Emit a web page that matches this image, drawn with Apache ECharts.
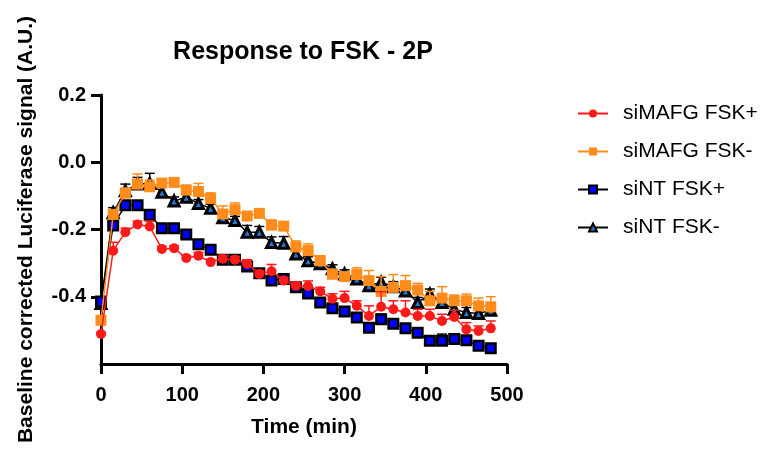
<!DOCTYPE html>
<html>
<head>
<meta charset="utf-8">
<script src="https://cdn.jsdelivr.net/npm/echarts@6/dist/echarts.min.js"></script>
<style>html,body{margin:0;padding:0;background:#fff}#c{width:763px;height:452px}</style>
</head>
<body>
<div id="c"></div>
<script>
const times = [0,15,30,45,60,75,90,105,120,135,150,165,180,195,210,225,240,255,270,285,300,315,330,345,360,375,390,405,420,435,450,465,480];
const xTicks = [0,100,200,300,400,500];
const yTicks = [-0.4,-0.2,0.0,0.2];
const seriesNames = ['siMAFG FSK+','siMAFG FSK-','siNT FSK+','siNT FSK-'];

const mafgPlus = [-0.511,-0.263,-0.208,-0.185,-0.191,-0.258,-0.256,-0.285,-0.278,-0.297,-0.287,-0.290,-0.302,-0.332,-0.324,-0.352,-0.367,-0.368,-0.384,-0.406,-0.404,-0.427,-0.457,-0.430,-0.437,-0.447,-0.457,-0.457,-0.472,-0.460,-0.497,-0.502,-0.494];
const mafgPlusErr = [0.005,0.025,0.012,0.010,0.015,0.008,0.008,0.008,0.010,0.008,0.010,0.010,0.012,0.010,0.020,0.010,0.010,0.015,0.012,0.015,0.020,0.015,0.030,0.045,0.025,0.035,0.020,0.020,0.020,0.020,0.020,0.015,0.022];

const mafgMinus = [-0.470,-0.155,-0.092,-0.065,-0.073,-0.062,-0.060,-0.083,-0.087,-0.108,-0.154,-0.141,-0.160,-0.152,-0.187,-0.190,-0.252,-0.263,-0.293,-0.333,-0.340,-0.334,-0.352,-0.384,-0.372,-0.367,-0.380,-0.412,-0.404,-0.412,-0.412,-0.427,-0.430];
const mafgMinusErr = [0.005,0.010,0.015,0.030,0.020,0.010,0.013,0.015,0.024,0.017,0.024,0.020,0.012,0.012,0.015,0.012,0.018,0.020,0.015,0.015,0.012,0.020,0.030,0.044,0.038,0.030,0.020,0.028,0.034,0.017,0.020,0.023,0.030];

const ntPlus = [-0.414,-0.188,-0.128,-0.128,-0.156,-0.196,-0.196,-0.215,-0.244,-0.260,-0.290,-0.290,-0.310,-0.330,-0.352,-0.347,-0.372,-0.390,-0.417,-0.434,-0.444,-0.462,-0.492,-0.467,-0.480,-0.494,-0.507,-0.531,-0.531,-0.526,-0.529,-0.546,-0.553];
const ntPlusErr = [0.005,0.008,0.010,0.010,0.010,0.008,0.008,0.008,0.008,0.008,0.008,0.008,0.008,0.008,0.008,0.008,0.008,0.008,0.008,0.008,0.008,0.008,0.008,0.015,0.008,0.008,0.008,0.008,0.020,0.008,0.008,0.008,0.008];

const ntMinus = [-0.420,-0.150,-0.085,-0.065,-0.063,-0.089,-0.115,-0.104,-0.123,-0.137,-0.165,-0.173,-0.208,-0.208,-0.239,-0.241,-0.273,-0.293,-0.302,-0.317,-0.332,-0.347,-0.367,-0.357,-0.370,-0.383,-0.417,-0.392,-0.417,-0.437,-0.447,-0.450,-0.440];
const ntMinusErr = [0.005,0.015,0.020,0.020,0.030,0.015,0.012,0.012,0.012,0.012,0.015,0.012,0.020,0.017,0.017,0.020,0.015,0.012,0.012,0.012,0.012,0.012,0.015,0.015,0.015,0.015,0.015,0.015,0.015,0.015,0.015,0.015,0.015];

const FONT = "'Liberation Sans', Arial, sans-serif";
const RED = '#ff1a1a', ORANGE = '#ff8c1a', BLUE = '#0000ff', TRI = '#1f78d6';

function pairs(vals){ return times.map((t,i)=>[t, vals[i]]); }
function triples(vals, errs){ return times.map((t,i)=>[t, vals[i], errs[i]]); }
function errSeries(vals, errs, color, z){
  return {
    type:'custom', z:z, silent:true,
    data: triples(vals, errs),
    encode:{x:0,y:1},
    renderItem:function(params, api){
      const x = api.value(0), y = api.value(1), e = api.value(2);
      const p0 = api.coord([x,y]), p1 = api.coord([x,y+e]);
      const hw = 5;
      return {type:'group', children:[
        {type:'line', shape:{x1:p0[0],y1:p0[1],x2:p1[0],y2:p1[1]}, style:{stroke:color,lineWidth:1.5}},
        {type:'line', shape:{x1:p1[0]-hw,y1:p1[1],x2:p1[0]+hw,y2:p1[1]}, style:{stroke:color,lineWidth:1.5}}
      ]};
    }
  };
}

const chart = echarts.init(document.getElementById('c'), null, {renderer:'canvas'});
chart.setOption({
  animation:false,
  backgroundColor:'#fff',
  title:{
    text:'Response to FSK - 2P', left:298, top:35, textAlign:'center',
    textStyle:{fontFamily:FONT, fontSize:25, fontWeight:'bold', color:'#000'}
  },
  legend:{
    orient:'vertical', left:572, top:98, itemWidth:30, itemHeight:10, itemGap:17,
    data:seriesNames,
    textStyle:{fontFamily:FONT, fontSize:21, color:'#000', padding:[0,0,0,10]}
  },
  grid:{left:101, right:256, top:95, bottom:88, outerBoundsMode:'none'},
  xAxis:{
    type:'value', min:0, max:500, interval:100,
    name:'Time (min)', nameLocation:'middle', nameGap:53,
    nameTextStyle:{fontFamily:FONT, fontSize:21, fontWeight:'bold', color:'#000'},
    axisLine:{show:true, onZero:false, lineStyle:{color:'#000', width:3}},
    axisTick:{show:true, length:10, lineStyle:{color:'#000', width:3}},
    axisLabel:{fontFamily:FONT, fontSize:20, fontWeight:'bold', color:'#000', margin:21,
      customValues: xTicks},
    splitLine:{show:false}
  },
  yAxis:{
    type:'value', min:-0.6, max:0.2, interval:0.2,
    name:'Baseline corrected Luciferase signal (A.U.)', nameLocation:'middle', nameGap:64,
    nameTextStyle:{fontFamily:FONT, fontSize:21, fontWeight:'bold', color:'#000'},
    axisLine:{show:true, onZero:false, lineStyle:{color:'#000', width:3}},
    axisTick:{show:true, length:10, lineStyle:{color:'#000', width:3}, customValues: yTicks},
    axisLabel:{fontFamily:FONT, fontSize:20, fontWeight:'bold', color:'#000', margin:15,
      customValues: yTicks, formatter:function(v){ return v.toFixed(1); }},
    splitLine:{show:false}
  },
  series:[
    errSeries(ntMinus, ntMinusErr, '#000', 1),
    {name:'siNT FSK-', type:'line', z:2, data:pairs(ntMinus), symbol:'triangle', symbolSize:10,
      itemStyle:{color:TRI, borderColor:'#000', borderWidth:3}, lineStyle:{color:'#000', width:1.5}},
    errSeries(ntPlus, ntPlusErr, '#000', 3),
    {name:'siNT FSK+', type:'line', z:4, data:pairs(ntPlus), symbol:'rect', symbolSize:9.5,
      itemStyle:{color:BLUE, borderColor:'#000', borderWidth:2.5}, lineStyle:{color:'#000', width:1.5}},
    errSeries(mafgMinus, mafgMinusErr, ORANGE, 5),
    {name:'siMAFG FSK-', type:'line', z:6, data:pairs(mafgMinus), symbol:'rect', symbolSize:11,
      itemStyle:{color:ORANGE, borderWidth:0}, lineStyle:{color:ORANGE, width:1.5}},
    errSeries(mafgPlus, mafgPlusErr, RED, 7),
    {name:'siMAFG FSK+', type:'line', z:8, data:pairs(mafgPlus), symbol:'circle', symbolSize:10,
      itemStyle:{color:RED, borderWidth:0}, lineStyle:{color:RED, width:1.5}}
  ]
});
</script>
</body>
</html>
